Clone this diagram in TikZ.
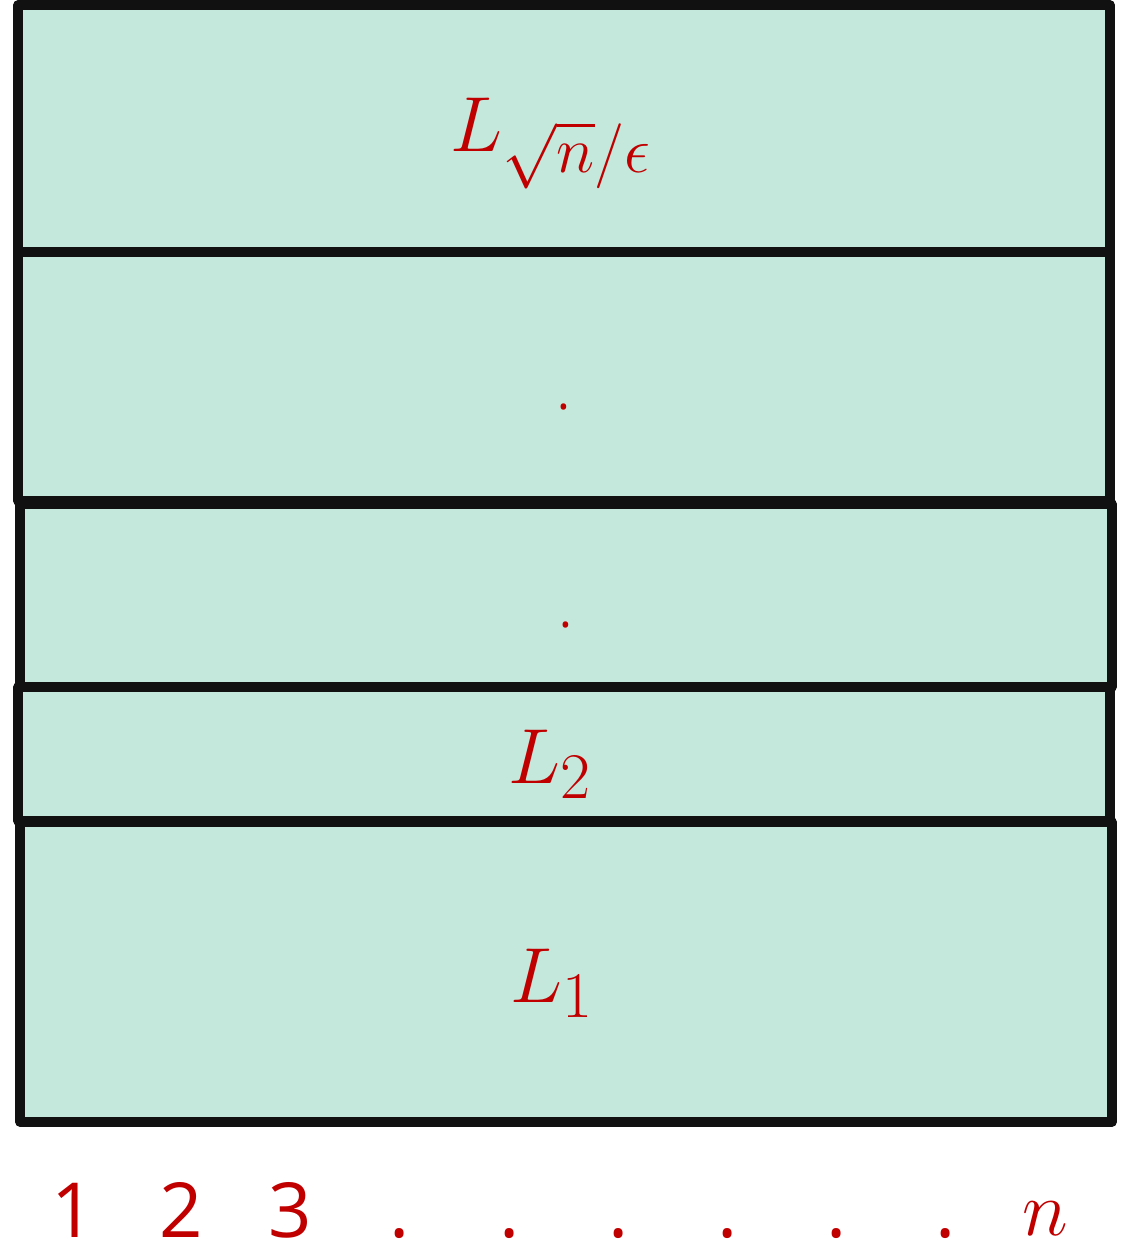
\documentclass[tikz,border=0pt]{standalone}
\usepackage{fontspec}
\usepackage{graphicx}
\newfontfamily\digitfont{Open Sans}
\definecolor{boxfill}{HTML}{C5E8DD}
\definecolor{labred}{HTML}{C00000}
\definecolor{boxline}{HTML}{111111}
\newcommand{\bigmath}[1]{\scalebox{1.57}{\Huge$#1$}}
\tikzset{
  layerbox/.style={fill=boxfill, draw=boxline, line width=4.6pt, line join=round},
  mathlab/.style={text=labred, anchor=base, inner sep=0pt},
  smalldot/.style={text=labred, font=\digitfont\fontsize{24}{28}\selectfont, anchor=base, inner sep=0pt},
  axislab/.style={text=labred, font=\digitfont\fontsize{38}{46}\selectfont, anchor=base, inner sep=0pt}
}
\begin{document}
\begin{tikzpicture}[x=0.5pt, y=-0.5pt]
\useasboundingbox (0,0) rectangle (1125,1243);
% layers
\draw[layerbox] (18,5) rectangle (1110,252);
\draw[layerbox] (18,252) rectangle (1110,501);
\draw[layerbox] (20,504) rectangle (1112,687);
\draw[layerbox] (18,687) rectangle (1110,821);
\draw[layerbox] (20,822) rectangle (1112,1122);
% labels
\node[mathlab] (ltop) at (551,151) {\bigmath{L_{\smash{\sqrt{n}}/\epsilon}}};
\node[smalldot] (dotA) at (564,409) {.};
\node[smalldot] (dotB) at (566,627) {.};
\node[mathlab] (ltwo) at (550,783) {\bigmath{L_2}};
\node[mathlab] (lone) at (552,1002) {\bigmath{L_1}};
% axis
\node[axislab] (c1) at (73,1237) {1};
\node[axislab] (c2) at (181,1237) {2};
\node[axislab] (c3) at (290,1237) {3};
\node[axislab] (d1) at (400,1237) {.};
\node[axislab] (d2) at (510,1237) {.};
\node[axislab] (d3) at (619,1237) {.};
\node[axislab] (d4) at (728,1237) {.};
\node[axislab] (d5) at (837,1237) {.};
\node[axislab] (d6) at (946,1237) {.};
\node[mathlab] (cn) at (1045,1235) {\bigmath{n}};
\end{tikzpicture}
\end{document}
